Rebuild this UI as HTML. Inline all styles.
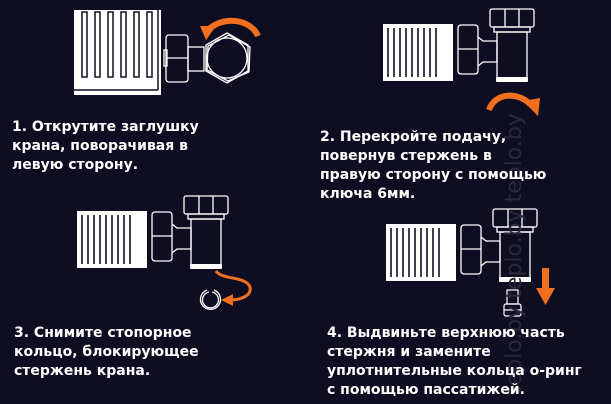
<!DOCTYPE html>
<html><head><meta charset="utf-8"><style>
html,body{margin:0;padding:0;background:#0f0d22;}
body{width:611px;height:404px;overflow:hidden;position:relative;}
svg{position:absolute;left:0;top:0;}
text{font-family:"DejaVu Sans","Liberation Sans",sans-serif;font-weight:bold;font-size:14px;fill:#fff;}
</style></head><body>
<svg width="611" height="404" viewBox="0 0 611 404">
<defs>
<g id="valve">
  <rect x="0" y="0" width="70" height="57" fill="#fff"/>
  <g stroke="#0f0d22" stroke-width="1.6">
    <line x1="5" y1="4" x2="5" y2="53"/><line x1="11" y1="4" x2="11" y2="53"/><line x1="17" y1="4" x2="17" y2="53"/>
    <line x1="23" y1="4" x2="23" y2="53"/><line x1="29" y1="4" x2="29" y2="53"/><line x1="35" y1="4" x2="35" y2="53"/>
    <line x1="41" y1="4" x2="41" y2="53"/><line x1="47" y1="4" x2="47" y2="53"/><line x1="53" y1="4" x2="53" y2="53"/>
  </g>
  <g fill="none" stroke="#fff" stroke-width="1.3">
    <rect x="75" y="1" width="20" height="49" rx="3"/>
    <line x1="75" y1="25" x2="95" y2="25"/>
    <path d="M95 13 L100 17 H114 V38 H100 L95 42"/>
    <rect x="114" y="8" width="30" height="46"/>
    <rect x="107" y="-15" width="44" height="18" rx="2"/>
    <line x1="122" y1="-15" x2="122" y2="3"/><line x1="136" y1="-15" x2="136" y2="3"/>
    <rect x="111" y="3" width="36" height="5"/>
  </g>
  <rect x="113" y="53" width="32" height="5" rx="1" fill="#fff"/>
</g>
</defs>

<!-- Figure 1 -->
<rect x="74" y="10" width="87" height="85" fill="#fff"/>
<g fill="none" stroke="#0f0d22" stroke-width="1.5">
  <rect x="82" y="12" width="5" height="65"/><rect x="95" y="12" width="5" height="65"/>
  <rect x="108" y="12" width="5" height="65"/><rect x="121" y="12" width="5" height="65"/>
  <rect x="134" y="12" width="5" height="65"/><rect x="147" y="12" width="5" height="65"/>
  <line x1="74" y1="90" x2="158" y2="90"/><line x1="158" y1="10" x2="158" y2="90"/>
</g>
<g fill="none" stroke="#fff" stroke-width="1.3">
  <rect x="166" y="35" width="22" height="47" rx="3"/>
  <line x1="166" y1="58" x2="188" y2="58"/>
  <rect x="188" y="47" width="16" height="24"/>
  <rect x="164" y="50" width="3" height="16"/>
  <circle cx="227" cy="58" r="20"/>
  <polygon points="227,33 248,45 248,71 227,83 206,71 206,45"/>
  <polygon points="229,35 250,47 249,72 228,81 207,70 208,46"/>
</g>
<path d="M258 36 C250 18 222 16 208 30" fill="none" stroke="#f07020" stroke-width="6"/>
<polygon points="200,26 216,26 206,40" fill="#f07020"/>

<!-- Figure 2 -->
<use href="#valve" x="383" y="24"/>
<path d="M489 110 C495 92 518 92 530 104" fill="none" stroke="#f07020" stroke-width="6"/>
<polygon points="523,101 540,98 538,116" fill="#f07020"/>

<!-- Figure 3 -->
<use href="#valve" x="77" y="211"/>
<path d="M216 271 C222 280 246 276 250 287 C252 296 240 300 230 300" fill="none" stroke="#f07020" stroke-width="3"/>
<polygon points="221,300 233,294 233,306" fill="#f07020"/>
<g fill="none" stroke="#fff" stroke-width="1.3">
  <path d="M207 290 A10 10 0 1 0 214 290"/>
  <path d="M209 292 A8 8 0 1 0 212 292"/>
</g>

<!-- Figure 4 -->
<use href="#valve" x="386" y="224"/>
<g fill="none" stroke="#fff" stroke-width="1.2">
  <rect x="507" y="290" width="11" height="14"/>
  <rect x="504" y="304" width="17" height="12" rx="2"/>
  <line x1="504" y1="310" x2="521" y2="310"/>
</g>
<rect x="542" y="268" width="7" height="22" fill="#f07020"/>
<polygon points="536,288 555,288 545.5,305" fill="#f07020"/>

<!-- faint watermark -->
<text x="0" y="0" transform="translate(521,395) rotate(-90)" style="fill:#2a283c;font-weight:normal;font-size:22px;">teplo.by teplo.by teplo.by</text>

<!-- Texts -->
<text x="12" y="131">1. Открутите заглушку</text>
<text x="12" y="150">крана, поворачивая в</text>
<text x="12" y="169">левую сторону.</text>

<text x="320" y="141">2. Перекройте подачу,</text>
<text x="320" y="160">повернув стержень в</text>
<text x="320" y="179">правую сторону с помощью</text>
<text x="320" y="198">ключа 6мм.</text>

<text x="14" y="337">3. Снимите стопорное</text>
<text x="14" y="356">кольцо, блокирующее</text>
<text x="14" y="375">стержень крана.</text>

<text x="327" y="337">4. Выдвиньте верхнюю часть</text>
<text x="327" y="356">стержня и замените</text>
<text x="327" y="375">уплотнительные кольца о-ринг</text>
<text x="327" y="394">с помощью пассатижей.</text>
</svg>
</body></html>
